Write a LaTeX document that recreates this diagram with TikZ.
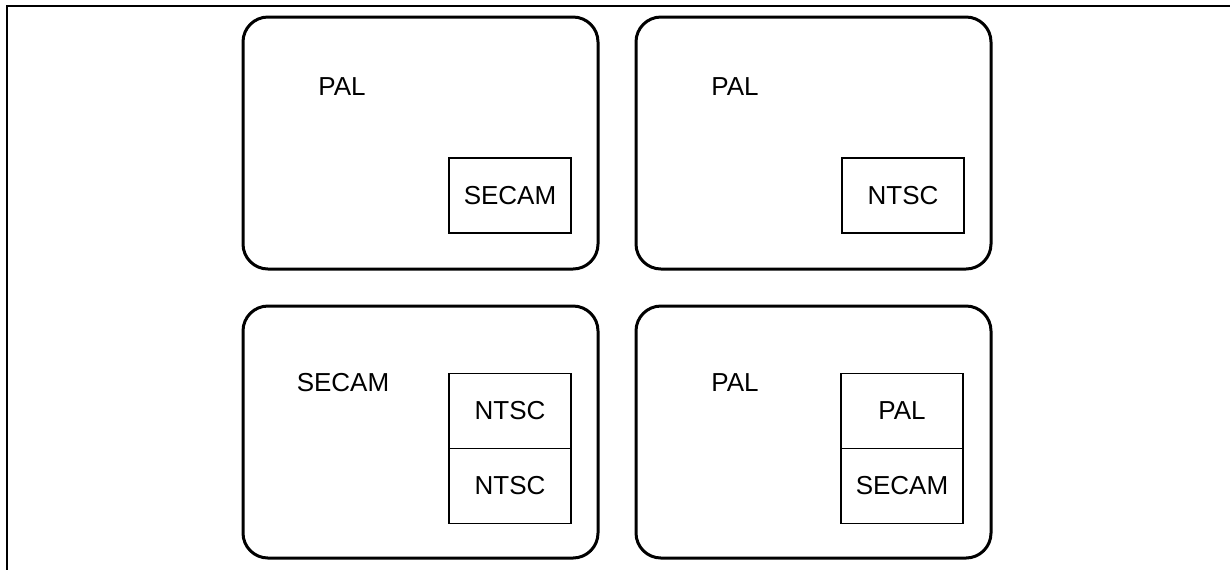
\documentclass[tikz,border=0pt]{standalone}
\usepackage{fontspec}
\setmainfont{Liberation Sans}
\begin{document}
\begin{tikzpicture}[x=0.5pt, y=-0.5pt, node distance=196.5pt,
    panel/.style={rectangle, draw, line width=1.5pt, rounded corners=12.5pt,
        minimum width=177.5pt, minimum height=126pt},
    slot/.style={rectangle, draw, line width=0.65pt,
        minimum width=61pt, minimum height=37.5pt, font=\fontsize{13}{15}\selectfont},
    sysname/.style={font=\fontsize{13}{15}\selectfont}
    ]
    \useasboundingbox (0,0) rectangle (1230,570);

    % Frame
    \coordinate (corner) at (7,6);
    \draw[line width=1pt] (1230,6) -- (corner) -- (7,570);

    % Panels
    \node [panel] (p1) at (420.5,143) {};
    \node [panel, right of=p1] (p2) {};
    \node [panel, below of=p1, node distance=144.5pt] (p3) {};
    \node [panel, right of=p3] (p4) {};

    % Main standard
    \node [sysname] (m1) at (342,87) {PAL};
    \node [sysname] (m2) at (735,87) {PAL};
    \node [sysname] (m3) at (343,383) {SECAM};
    \node [sysname] (m4) at (735,383) {PAL};

    % Sub-pictures
    \node [slot] (s1) at (510,195.5) {SECAM};
    \node [slot] (s2) at (903,195.5) {NTSC};
    \node [slot] (s3a) at (510,411) {NTSC};
    \node [slot, below of=s3a, node distance=37.5pt] (s3b) {NTSC};
    \node [slot] (s4a) at (902,411) {PAL};
    \node [slot, below of=s4a, node distance=37.5pt] (s4b) {SECAM};
\end{tikzpicture}
\end{document}
